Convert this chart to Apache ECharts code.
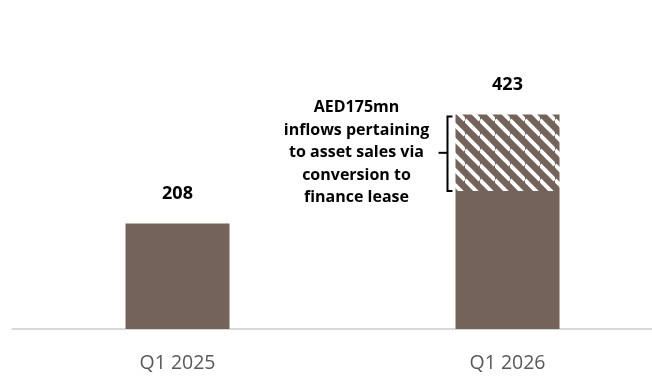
<!DOCTYPE html>
<html>
<head>
<meta charset="utf-8">
<script src="https://cdn.jsdelivr.net/npm/echarts@6/dist/echarts.min.js"></script>
<style>
  html, body { margin: 0; padding: 0; background: #fff; }
  #chart { width: 652px; height: 376px; }
</style>
</head>
<body>
<div id="chart"></div>
<script>
const categories = ["Q1 2025", "Q1 2026"];
// solid part and hatched part (asset sale inflows), as drawn
const baseValues = [208, 272];
const hatchValues = [0, 151];
const totals = [208, 423];
const note = "AED175mn\ninflows pertaining\nto asset sales via\nconversion to\nfinance lease";

const brown = "#74635a";

// diagonal stripe pattern for the hatched part
function stripes() {
  const s = 15;
  const c = document.createElement("canvas");
  c.width = s;
  c.height = s;
  const ctx = c.getContext("2d");
  ctx.fillStyle = brown;
  ctx.fillRect(0, 0, s, s);
  ctx.strokeStyle = "#ffffff";
  ctx.lineWidth = 4;
  for (let k = -1; k <= 1; k++) {
    ctx.beginPath();
    ctx.moveTo(0, k * s);
    ctx.lineTo(s, s + k * s);
    ctx.stroke();
  }
  return c;
}

const chart = echarts.init(document.getElementById("chart"));

const option = {
  animation: false,
  grid: { left: 12.5, width: 660, top: 75.5, bottom: 47, outerBoundsMode: "none", containLabel: false },
  xAxis: {
    type: "category",
    data: categories,
    axisLine: { lineStyle: { color: "#d9d9d9", width: 2 } },
    axisTick: { show: false },
    axisLabel: {
      color: "#595959",
      fontFamily: "Open Sans",
      fontSize: 19.5,
      margin: 24,
    },
  },
  yAxis: {
    type: "value",
    min: 0,
    max: 500,
    show: false,
  },
  series: [
    {
      type: "bar",
      stack: "a",
      barWidth: 104,
      data: baseValues,
      itemStyle: { color: brown },
    },
    {
      type: "bar",
      stack: "a",
      barWidth: 104,
      data: hatchValues.map((v) => {
        if (!v) return "-";
        return {
          value: v,
          label: {
            show: true,
            position: "left",
            distance: 99,
            align: "center",
            formatter: note,
            color: "#000",
            fontFamily: "Open Sans",
            fontWeight: "bold",
            fontSize: 16,
            lineHeight: 22.5,
          },
        };
      }),
      itemStyle: { color: { image: stripes(), repeat: "repeat" } },
    },
    {
      // totals above the bars
      type: "line",
      data: totals,
      symbol: "circle",
      symbolSize: 1,
      itemStyle: { color: "transparent" },
      lineStyle: { opacity: 0 },
      label: {
        show: true,
        position: "top",
        distance: 20,
        color: "#000",
        fontFamily: "Open Sans",
        fontWeight: "bold",
        fontSize: 18,
      },
    },
  ],
};

chart.setOption(option);

// bracket next to the hatched part
const hi = hatchValues.findIndex((v) => v > 0);
const cx = chart.convertToPixel({ xAxisIndex: 0 }, categories[hi]);
const yTop = chart.convertToPixel({ yAxisIndex: 0 }, totals[hi]);
const yBot = chart.convertToPixel({ yAxisIndex: 0 }, baseValues[hi]);
const bx = cx - 52 - 8;
const yMid = (yTop + yBot) / 2;
chart.setOption({
  graphic: [
    {
      type: "polyline",
      shape: { points: [[bx + 5, yTop + 2], [bx, yTop + 2], [bx, yBot], [bx + 5, yBot]] },
      style: { stroke: "#000", lineWidth: 2, fill: null },
    },
    {
      type: "line",
      shape: { x1: bx, y1: yMid, x2: bx - 9, y2: yMid },
      style: { stroke: "#000", lineWidth: 2 },
    },
  ],
});
</script>
</body>
</html>
